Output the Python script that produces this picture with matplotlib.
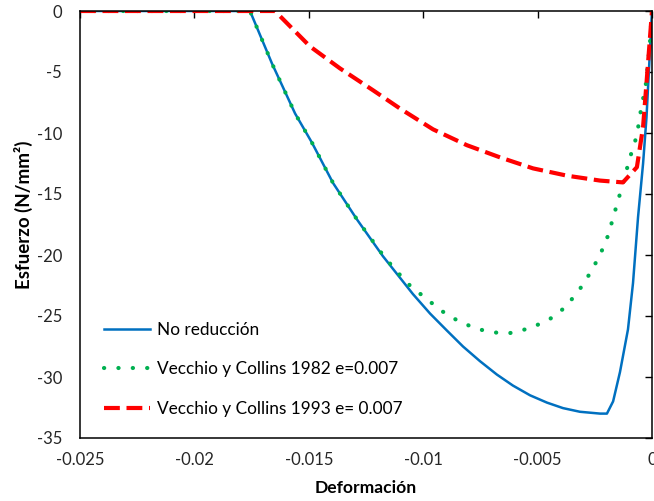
import matplotlib
matplotlib.use("Agg")
import matplotlib.pyplot as plt

# ---------------------------------------------------------------------------
# Data (strain vs stress, N/mm2)
# ---------------------------------------------------------------------------

blue_x = [-0.025, -0.01757, -0.01661, -0.01560, -0.01486, -0.01394, -0.01289,
          -0.01176, -0.01045, -0.00970, -0.00896, -0.00826, -0.00752, -0.00678,
          -0.00608, -0.00533, -0.00459, -0.00389, -0.00315, -0.00227, -0.00197,
          -0.00170, -0.00140, -0.00105, -0.00083, -0.00061, -0.00039, -0.00024,
          0.0]
blue_y = [0.0, 0.0, -4.3, -8.4, -10.8, -14.1, -17.1,
          -20.1, -23.2, -24.8, -26.2, -27.5, -28.7, -29.8,
          -30.7, -31.5, -32.1, -32.55, -32.85, -33.0, -33.0,
          -32.0, -29.6, -26.1, -22.3, -16.9, -12.5, -8.7,
          0.0]

green_x = [-0.025, -0.01757, -0.01661, -0.01560, -0.01486, -0.01394, -0.01289,
           -0.01176, -0.01123, -0.01058, -0.00992, -0.00918, -0.00839, -0.00756,
           -0.00669, -0.00621, -0.00533, -0.00450, -0.00380, -0.00319, -0.00271,
           -0.00227, -0.00192, -0.00157, -0.00131, -0.00096, -0.00066, -0.00052,
           -0.00026, -0.00009, 0.0]
green_y = [0.0, 0.0, -4.3, -8.4, -10.8, -14.1, -17.1,
           -20.0, -21.2, -22.5, -23.5, -24.6, -25.5, -26.1,
           -26.4, -26.4, -26.0, -25.3, -24.3, -22.9, -21.5,
           -20.0, -18.4, -16.1, -14.4, -12.0, -10.2, -8.5,
           -5.9, -2.6, 0.0]

red_x = [-0.025, -0.01648, -0.01495, -0.01364, -0.01219, -0.01101, -0.00957,
         -0.00809, -0.00664, -0.00520, -0.00371, -0.00227, -0.00127, -0.00066,
         -0.00039, -0.00024, 0.0]
red_y = [0.0, 0.0, -2.9, -4.7, -6.5, -8.0, -9.7,
         -11.0, -12.0, -12.9, -13.5, -13.9, -14.05, -12.8,
         -9.5, -5.9, 0.0]

labels = ["No reducción",
          "Vecchio y Collins 1982 e=0.007",
          "Vecchio y Collins 1993 e= 0.007"]

x_ticks = [-0.025, -0.02, -0.015, -0.01, -0.005, 0]
x_tick_labels = ["-0.025", "-0.02", "-0.015", "-0.01", "-0.005", "0"]
y_ticks = [0, -5, -10, -15, -20, -25, -30, -35]

# ---------------------------------------------------------------------------
# Plot
# ---------------------------------------------------------------------------

plt.rcParams["font.family"] = ["Lato", "DejaVu Sans"]
plt.rcParams["axes.unicode_minus"] = False

fig = plt.figure(figsize=(6.54, 5.01), dpi=100)
ax = fig.add_axes([80 / 654, 63 / 501, 572 / 654, 427 / 501])

ax.plot(blue_x, blue_y, color="#0070C0", linewidth=1.8, label=labels[0])
ax.plot(green_x, green_y, color="#00B050", linewidth=3.0,
        linestyle=(0, (0.05, 3.4)), dash_capstyle="round", label=labels[1])
ax.plot(red_x, red_y, color="#FF0000", linewidth=3.0,
        linestyle=(0, (3.8, 1.6)), label=labels[2])

ax.set_xlim(-0.025, 0)
ax.set_ylim(-35, 0)
ax.set_xticks(x_ticks)
ax.set_xticklabels(x_tick_labels)
ax.set_yticks(y_ticks)

# Excel style: axes cross at 0 (top / right), labels sit low
ax.tick_params(axis="x", top=True, bottom=False, labeltop=False,
               labelbottom=True, direction="in", length=5, width=1,
               pad=10, labelsize=12, labelcolor="#262626")
ax.tick_params(axis="y", right=True, left=False, labelright=False,
               labelleft=True, direction="in", length=5, width=1,
               pad=13, labelsize=12, labelcolor="#262626")
for s in ax.spines.values():
    s.set_linewidth(1.1)
    s.set_color("black")

ax.set_xlabel("Deformación", fontsize=12.6, fontweight="bold", labelpad=9)
ax.set_ylabel("Esfuerzo (N/mm²)", fontsize=13.5, fontweight="bold")
ax.yaxis.set_label_coords(-0.082, 0.522)

ax.legend(loc="lower left", bbox_to_anchor=(0.042, 0.05), frameon=False,
          borderaxespad=0, borderpad=0, fontsize=12.4, handlelength=2.65,
          handletextpad=0.4, labelspacing=1.35)

fig.savefig("out.png", dpi=100)
